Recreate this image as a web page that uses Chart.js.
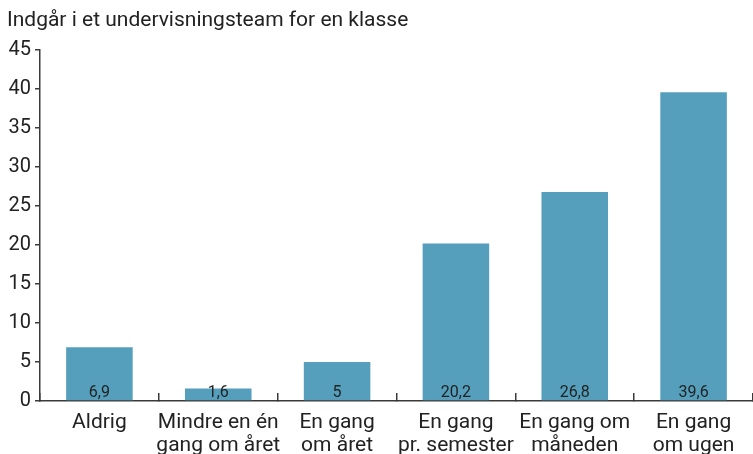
<!DOCTYPE html>
<html>
<head>
<meta charset="utf-8">
<script src="https://cdn.jsdelivr.net/npm/chart.js@4/dist/chart.umd.min.js"></script>
<style>
  html, body { margin: 0; padding: 0; background: #fff; }
  #wrap { width: 753px; height: 454px; }
</style>
</head>
<body>
<div id="wrap"><canvas id="chart"></canvas></div>
<script>
// Data
const categories = [
  ['Aldrig'],
  ['Mindre en én', 'gang om året'],
  ['En gang', 'om året'],
  ['En gang', 'pr. semester'],
  ['En gang om', 'måneden'],
  ['En gang', 'om ugen']
];
const values = [6.9, 1.6, 5, 20.2, 26.8, 39.6];
const valueLabels = ['6,9', '1,6', '5', '20,2', '26,8', '39,6'];
const yTicks = [0, 5, 10, 15, 20, 25, 30, 35, 40, 45];
const titleText = 'Indgår i et undervisningsteam for en klasse';

const FONT = 'Roboto, "DejaVu Sans", sans-serif';
const TEXT = '#222';
const AXIS = '#3a3a3a';

// value labels at the foot of each bar
const barLabels = {
  id: 'barLabels',
  afterDatasetsDraw(chart) {
    const ctx = chart.ctx;
    const meta = chart.getDatasetMeta(0);
    ctx.save();
    ctx.font = '16px ' + FONT;
    ctx.fillStyle = TEXT;
    ctx.textAlign = 'center';
    ctx.textBaseline = 'bottom';
    meta.data.forEach((bar, i) => {
      ctx.fillText(valueLabels[i], bar.x, bar.base + 1);
    });
    ctx.restore();
  }
};

new Chart(document.getElementById('chart'), {
  type: 'bar',
  data: {
    labels: categories,
    datasets: [{
      data: values,
      backgroundColor: '#559fbd',
      barPercentage: 0.56,
      categoryPercentage: 1
    }]
  },
  options: {
    responsive: true,
    maintainAspectRatio: false,
    animation: false,
    layout: { padding: { left: 7, right: 0, top: 0, bottom: 0 } },
    plugins: {
      legend: { display: false },
      tooltip: { enabled: false },
      title: {
        display: true,
        text: titleText,
        align: 'start',
        color: TEXT,
        font: { family: FONT, size: 21, weight: 'normal', lineHeight: 1.1 },
        padding: { top: 9, bottom: 18 }
      }
    },
    scales: {
      x: {
        afterFit(scale) { scale.height = 53; },
        border: { color: AXIS, width: 1.5 },
        grid: {
          drawOnChartArea: false,
          drawTicks: true,
          tickLength: -8,
          color: AXIS,
          lineWidth: 1.5,
          offset: true
        },
        ticks: {
          color: TEXT,
          font: { family: FONT, size: 21, lineHeight: 1.1 },
          padding: 18,
          maxRotation: 0,
          autoSkip: false
        }
      },
      y: {
        min: 0,
        max: 45,
        afterFit(scale) { scale.width = 33; },
        afterBuildTicks(scale) { scale.ticks = yTicks.map(v => ({ value: v })); },
        border: { color: AXIS, width: 1.5 },
        grid: {
          drawOnChartArea: false,
          tickLength: 5,
          color: AXIS,
          lineWidth: 1.5
        },
        ticks: {
          color: TEXT,
          font: { family: FONT, size: 20 },
          padding: 4
        }
      }
    }
  },
  plugins: [barLabels]
});
</script>
</body>
</html>
